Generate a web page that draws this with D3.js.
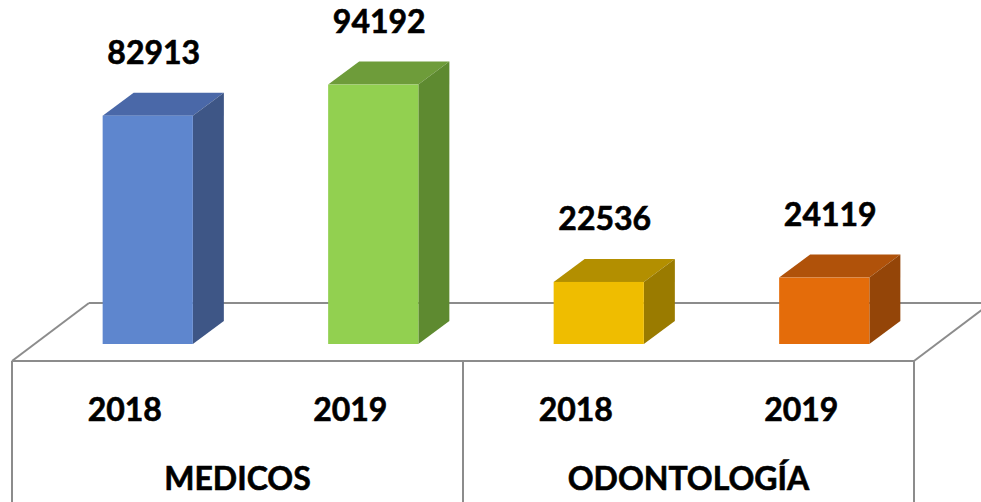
<!DOCTYPE html>
<html>
<head>
<meta charset="utf-8">
<script src="https://cdn.jsdelivr.net/npm/d3@7"></script>
<style>
  body { margin: 0; background: #fff; }
  svg { display: block; }
  text { font-family: Lato, "Open Sans", sans-serif; font-weight: bold; fill: #000; stroke: #000; stroke-width: 0.6px; }
</style>
</head>
<body>
<div id="container"></div>
<script>
// chart data
var categories = ["MEDICOS", "ODONTOLOGÍA"];
var years = ["2018", "2019"];
var values = [82913, 94192, 22536, 24119];
var frontColors = ["#5e86ce", "#92d050", "#efbd00", "#e46c0a"];
var topColors = ["#4a68a8", "#6e9c3a", "#b38f00", "#b0520a"];
var sideColors = ["#3e5686", "#5e8a30", "#9a7b00", "#944508"];

var width = 981, height = 502;
var left = 12, right = 914, frontY = 361;
var floorDx = 77, floorDy = 58;   // depth of the floor
var barShiftX = 23, barShiftY = 17; // bars sit a bit back on the floor
var depthX = 31, depthY = 23;     // depth of each bar
var lineColor = "#8c8c8c";

var svg = d3.select("div#container")
  .append("svg")
  .attr("width", width)
  .attr("height", height);

var x0 = d3.scaleBand().domain(categories).range([left, right]);
var x1 = d3.scaleBand().domain(years).range([0, x0.bandwidth()])
  .paddingInner(0.6).paddingOuter(0.3);
var baseY = frontY - barShiftY;
var y = d3.scaleLinear().domain([0, 100000]).range([baseY, baseY - 275.4]);

// floor
var floor = svg.append("g")
  .attr("fill", "none")
  .attr("stroke", lineColor)
  .attr("stroke-width", 2);
floor.append("line")
  .attr("x1", left + floorDx).attr("y1", frontY - floorDy)
  .attr("x2", right + floorDx).attr("y2", frontY - floorDy);
floor.append("line")
  .attr("x1", left).attr("y1", frontY)
  .attr("x2", left + floorDx).attr("y2", frontY - floorDy);
floor.append("line")
  .attr("x1", right).attr("y1", frontY)
  .attr("x2", right + floorDx).attr("y2", frontY - floorDy);
floor.append("line")
  .attr("x1", left).attr("y1", frontY)
  .attr("x2", right).attr("y2", frontY);

// vertical separators of the category box
var seps = [left].concat(categories.map(function(c) { return x0(c) + x0.bandwidth(); }));
floor.selectAll("line.sep").data(seps).enter().append("line")
  .attr("class", "sep")
  .attr("x1", function(d) { return d; }).attr("x2", function(d) { return d; })
  .attr("y1", frontY).attr("y2", height);

// flatten data
var bars = [];
categories.forEach(function(c, i) {
  years.forEach(function(yr, j) {
    var k = i * years.length + j;
    bars.push({ cat: c, year: yr, value: values[k], k: k });
  });
});

var g = svg.append("g");
bars.forEach(function(d) {
  var xa = x0(d.cat) + x1(d.year) + barShiftX;
  var xb = xa + x1.bandwidth();
  var yt = y(d.value), yb = y(0);

  g.append("polygon")
    .attr("points", [[xa, yt], [xb, yt], [xb + depthX, yt - depthY], [xa + depthX, yt - depthY]].join(" "))
    .attr("fill", topColors[d.k]);
  g.append("polygon")
    .attr("points", [[xb, yt], [xb + depthX, yt - depthY], [xb + depthX, yb - depthY], [xb, yb]].join(" "))
    .attr("fill", sideColors[d.k]);
  g.append("rect")
    .attr("x", xa).attr("y", yt)
    .attr("width", xb - xa).attr("height", yb - yt)
    .attr("fill", frontColors[d.k]);

  // value label
  g.append("text")
    .attr("x", (xa + xb) / 2 + 6)
    .attr("y", yt - depthY - 29)
    .attr("text-anchor", "middle")
    .style("font-size", "32px")
    .text(d.value);

  // year label
  svg.append("text")
    .attr("x", x0(d.cat) + x0.bandwidth() / 4 * (d.year === years[0] ? 1 : 3))
    .attr("y", 421)
    .attr("text-anchor", "middle")
    .style("font-size", "32px")
    .text(d.year);
});

// category labels
svg.selectAll("text.cat").data(categories).enter().append("text")
  .attr("class", "cat")
  .attr("x", function(d) { return x0(d) + x0.bandwidth() / 2; })
  .attr("y", 490)
  .attr("text-anchor", "middle")
  .style("font-size", "32px")
  .text(function(d) { return d; });
</script>
</body>
</html>
